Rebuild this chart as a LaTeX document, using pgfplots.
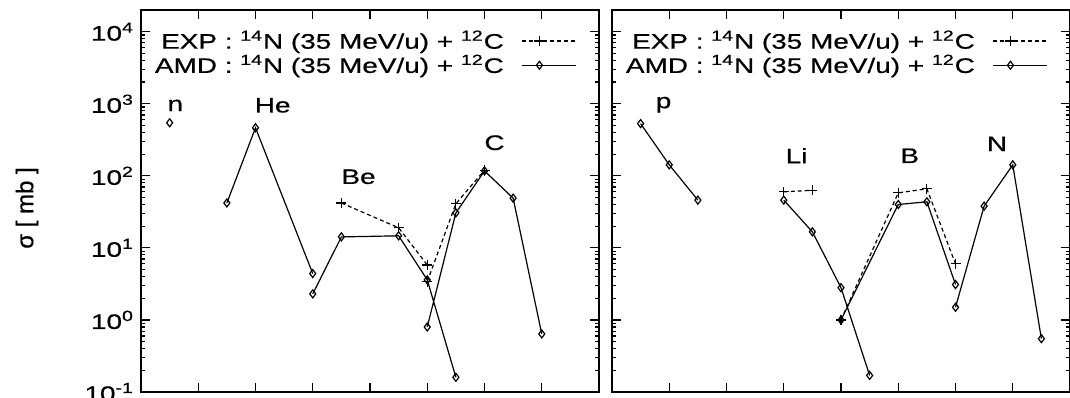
\documentclass[border=0pt]{standalone}
\usepackage{pgfplots}
\pgfplotsset{compat=1.18}
\usepackage{fontspec}
\setmainfont[FakeStretch=1.33, FakeBold=0.6]{Liberation Sans}
\newfontfamily\labelfont[FakeBold=0.6]{Liberation Sans}

% EXP and AMD isotope yields, sigma in mb against mass number A
% (nan rows split the curves of the different elements)
\pgfplotstableread{
A sigma
7 42
9 19
10 5.8
nan nan
10 3.4
11 41
12 120
}\expleft
\pgfplotstableread{
A sigma
1 545
nan nan
3 42
4 464
6 4.4
nan nan
6 2.3
7 14.2
9 14.7
10 3.6
11 0.16
nan nan
10 0.8
11 30.6
12 117
13 49
14 0.64
}\amdleft
\pgfplotstableread{
A sigma
6 60
7 63
nan nan
8 1.0
10 58
11 66
12 6.0
}\expright
\pgfplotstableread{
A sigma
1 530
2 142
3 46
nan nan
6 46
7 16.7
8 2.8
9 0.17
nan nan
8 1.0
10 40
11 43.6
12 3.1
nan nan
12 1.5
13 38
14 142
15 0.55
}\amdright

\pgfplotsset{
  every axis/.append style={
    scale only axis, width=229pt, height=191pt,
    ymode=log, xmin=0, xmax=16, ymin=0.1, ymax=2e4,
    ytickten={-1,0,...,4},
    xtick={2,4,...,14}, xticklabels={},
    tick align=inside,
    major tick length=4.5pt, minor tick length=2.2pt,
    tick style={black, line width=0.6pt},
    axis line style={line width=0.9pt},
    unbounded coords=jump,
    legend plot pos=right,
    legend cell align=right,
    legend style={draw=none, fill=none, at={(0.953,0.958)}, anchor=north east,
      inner sep=0pt, row sep=-2.5pt, column sep=7pt,
      font=\fontsize{10.5}{11}\selectfont},
  },
  legend image code/.code={%
    \draw[mark repeat=2, mark phase=2, #1]
      plot coordinates {(0pt,0pt) (8.5pt,0pt) (27pt,0pt)};},
}

\newcommand{\expentry}{EXP : \textsuperscript{14}N (35 MeV/u) + \textsuperscript{12}C}
\newcommand{\amdentry}{AMD : \textsuperscript{14}N (35 MeV/u) + \textsuperscript{12}C}

\begin{document}
\begin{tikzpicture}[font=\fontsize{10.5}{11}\selectfont]
\begin{axis}[at={(70.5pt,2.5pt)}, anchor=south west,
    yticklabel={10\textsuperscript{\pgfmathparse{int(round(\tick/ln(10)))}\pgfmathresult}}]
  \addplot[black, line width=0.6pt, dash pattern=on 2pt off 1.5pt,
    mark=+, mark size=2.5pt, mark options={solid}] table[x=A, y=sigma] {\expleft};
  \addlegendentry{\expentry}
  \addplot[black, line width=0.6pt, mark=diamond, mark size=2pt,
    mark options={solid, fill=white}] table[x=A, y=sigma] {\amdleft};
  \addlegendentry{\amdentry}
  \node at (axis cs:1.2,950) {n};
  \node at (axis cs:4.6,950) {He};
  \node at (axis cs:7.6,97) {Be};
  \node at (axis cs:12.35,288) {C};
\end{axis}
\begin{axis}[at={(306pt,2.5pt)}, anchor=south west, yticklabels={}]
  \addplot[black, line width=0.6pt, dash pattern=on 2pt off 1.5pt,
    mark=+, mark size=2.5pt, mark options={solid}] table[x=A, y=sigma] {\expright};
  \addlegendentry{\expentry}
  \addplot[black, line width=0.6pt, mark=diamond, mark size=2pt,
    mark options={solid, fill=white}] table[x=A, y=sigma] {\amdright};
  \addlegendentry{\amdentry}
  \node at (axis cs:1.8,970) {p};
  \node at (axis cs:6.45,190) {Li};
  \node at (axis cs:10.4,190) {B};
  \node at (axis cs:13.45,278) {N};
\end{axis}
\node[rotate=90, font=\labelfont\fontsize{12}{13}\selectfont] at (13.5pt,94.5pt) {σ [ mb ]};
\pgfresetboundingbox
\useasboundingbox (0pt,0pt) rectangle (535pt,198.5pt);
\end{tikzpicture}
\end{document}
